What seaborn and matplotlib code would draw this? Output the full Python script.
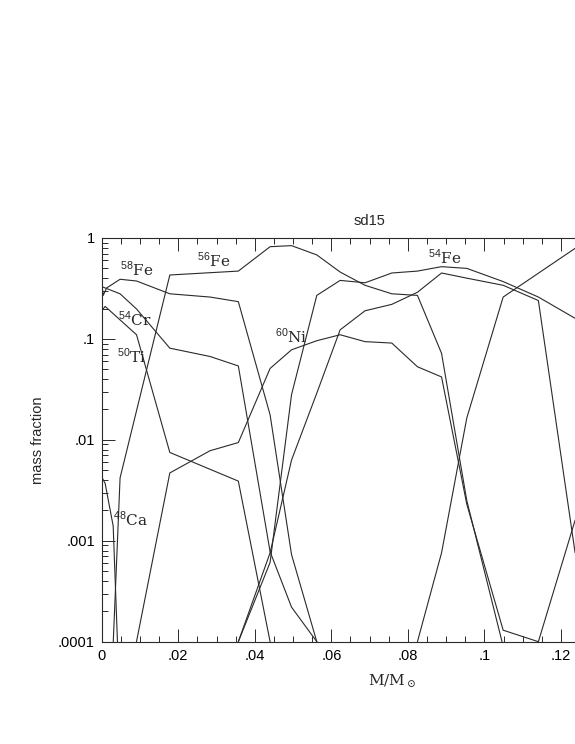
import numpy as np
import pandas as pd
import seaborn as sns
import matplotlib
matplotlib.use("Agg")
import matplotlib.pyplot as plt
from matplotlib.ticker import FixedLocator, MultipleLocator, LogLocator, NullFormatter

# mass coordinate (M/Msun) and mass fraction for each isotope
fe56_x = [0.0004, 0.0048, 0.0178, 0.0357, 0.0440, 0.0496, 0.0562, 0.0623, 0.0688, 0.0758, 0.0825, 0.0888, 0.0954, 0.1049, 0.1141]
fe56_y = [4e-7, 0.0042, 0.43, 0.47, 0.82, 0.84, 0.68, 0.46, 0.34, 0.28, 0.27, 0.072, 0.0025, 9e-5, 1e-6]

ni60_x = [0.0048, 0.0178, 0.0283, 0.0357, 0.0440, 0.0496, 0.0562, 0.0623, 0.0688, 0.0758, 0.0825, 0.0888, 0.0954, 0.1049, 0.1141, 0.1237]
ni60_y = [1.5e-5, 0.0047, 0.0078, 0.0094, 0.051, 0.078, 0.096, 0.11, 0.094, 0.091, 0.053, 0.042, 0.0023, 1.3e-4, 1.0e-4, 0.0016]

fe58_x = [0.0, 0.0004, 0.0013, 0.0048, 0.0091, 0.0178, 0.0283, 0.0357, 0.0440, 0.0496, 0.0562, 0.0623]
fe58_y = [0.36, 0.27, 0.32, 0.39, 0.375, 0.28, 0.26, 0.234, 0.0177, 7.3e-4, 1.0e-4, 1e-6]

cr54_x = [0.0, 0.0048, 0.0091, 0.0178, 0.0283, 0.0357, 0.0440, 0.0496, 0.0562, 0.0623]
cr54_y = [0.33, 0.28, 0.198, 0.081, 0.067, 0.054, 7.8e-4, 2.2e-4, 1.0e-4, 1e-6]

ti50_x = [0.0, 0.0009, 0.0091, 0.0178, 0.0357, 0.0440, 0.0496]
ti50_y = [0.19, 0.21, 0.11, 0.0075, 0.0039, 1.0e-4, 1e-6]

ca48_x = [0.0, 0.0009, 0.0030, 0.0048]
ca48_y = [0.0043, 0.0037, 0.0014, 2e-5]

edge_x = [0.0, 0.0004]
edge_y = [1.4e-4, 1e-5]

fe54_x = [0.0357, 0.0440, 0.0496, 0.0562, 0.0623, 0.0688, 0.0758, 0.0825, 0.0888, 0.0954, 0.1049, 0.1141, 0.1237]
fe54_y = [1.0e-4, 6.1e-4, 0.028, 0.27, 0.38, 0.36, 0.45, 0.47, 0.52, 0.50, 0.37, 0.26, 0.16]

iso2_x = [0.0357, 0.0440, 0.0496, 0.0562, 0.0623, 0.0688, 0.0758, 0.0825, 0.0888, 0.0954, 0.1049, 0.1141, 0.1237]
iso2_y = [1.0e-4, 7.6e-4, 0.0063, 0.029, 0.123, 0.19, 0.22, 0.29, 0.45, 0.40, 0.34, 0.24, 7.6e-4]

iso3_x = [0.0825, 0.0888, 0.0954, 0.1049, 0.1237]
iso3_y = [1.0e-4, 7.6e-4, 0.0165, 0.26, 0.79]

# labels: text, x, y (baseline-left)
label_text = [r'$^{\mathsf{58}}$Fe', r'$^{\mathsf{56}}$Fe', r'$^{\mathsf{54}}$Cr', r'$^{\mathsf{50}}$Ti',
              r'$^{\mathsf{60}}$Ni', r'$^{\mathsf{54}}$Fe', r'$^{\mathsf{48}}$Ca']
label_x = [0.0048, 0.0248, 0.0043, 0.0039, 0.0453, 0.0853, 0.0030]
label_y = [0.42, 0.52, 0.134, 0.058, 0.091, 0.553, 0.0014]

xticks = [0, 0.02, 0.04, 0.06, 0.08, 0.10, 0.12]
xticklabels = ['0', '.02', '.04', '.06', '.08', '.1', '.12']
yticks = [1e-4, 1e-3, 1e-2, 1e-1, 1]
yticklabels = ['.0001', '.001', '.01', '.1', '1']

curves = {'56Fe': (fe56_x, fe56_y), '60Ni': (ni60_x, ni60_y), '58Fe': (fe58_x, fe58_y),
          '54Cr': (cr54_x, cr54_y), '50Ti': (ti50_x, ti50_y), '48Ca': (ca48_x, ca48_y),
          'edge': (edge_x, edge_y), '54Fe': (fe54_x, fe54_y), 'iso2': (iso2_x, iso2_y),
          'iso3': (iso3_x, iso3_y)}
df = pd.concat([pd.DataFrame({'m': xs, 'frac': ys, 'iso': name}) for name, (xs, ys) in curves.items()],
               ignore_index=True)

sns.set_style('ticks')
plt.rcParams['font.family'] = ['Liberation Sans', 'DejaVu Sans']
plt.rcParams['mathtext.fontset'] = 'custom'
plt.rcParams['mathtext.rm'] = 'DejaVu Serif'
plt.rcParams['mathtext.sf'] = 'Liberation Sans'

fig = plt.figure(figsize=(5.75, 7.44), dpi=100)
W, H = 575, 744
left, right, top, bottom = 101.7, 637.5, 238, 641.7
ax = fig.add_axes([left / W, 1 - bottom / H, (right - left) / W, (bottom - top) / H])

sns.lineplot(data=df, x='m', y='frac', hue='iso', units='iso', estimator=None, sort=False,
             palette={k: '#2a2a2a' for k in curves}, linewidth=0.8, legend=False, ax=ax)

ax.set_yscale('log')
ax.set_xlim(0, 0.14)
ax.set_ylim(1e-4, 1)

ax.xaxis.set_major_locator(FixedLocator(xticks))
ax.set_xticklabels(xticklabels)
ax.xaxis.set_minor_locator(MultipleLocator(0.005))
ax.yaxis.set_major_locator(FixedLocator(yticks))
ax.set_yticklabels(yticklabels)
ax.yaxis.set_minor_locator(LogLocator(base=10, subs=np.arange(2, 10)))
ax.yaxis.set_minor_formatter(NullFormatter())

ax.tick_params(which='both', direction='in', top=True, right=False, colors='#2a2a2a',
               labelsize=10.5, labelcolor='black', width=0.7)
ax.tick_params(which='major', length=9.5, pad=5)
ax.tick_params(which='minor', length=4.5)
for s in ax.spines.values():
    s.set_linewidth(0.8)
    s.set_color('#2a2a2a')

ax.set_xlabel('')
ax.set_ylabel('')
ax.set_title('sd15', fontsize=10.5, pad=9)

for t, x, y in zip(label_text, label_x, label_y):
    ax.text(x, y, t, fontsize=11, family='DejaVu Serif', ha='left', va='baseline')

fig.text(38 / W, 1 - 440 / H, 'mass fraction', rotation=90, ha='center', va='center', fontsize=10.5)
fig.text(392 / W, 1 - 681 / H, r'M/M$_\odot$', ha='center', va='center', fontsize=11, family='DejaVu Serif')

fig.savefig('out.png', dpi=100)
